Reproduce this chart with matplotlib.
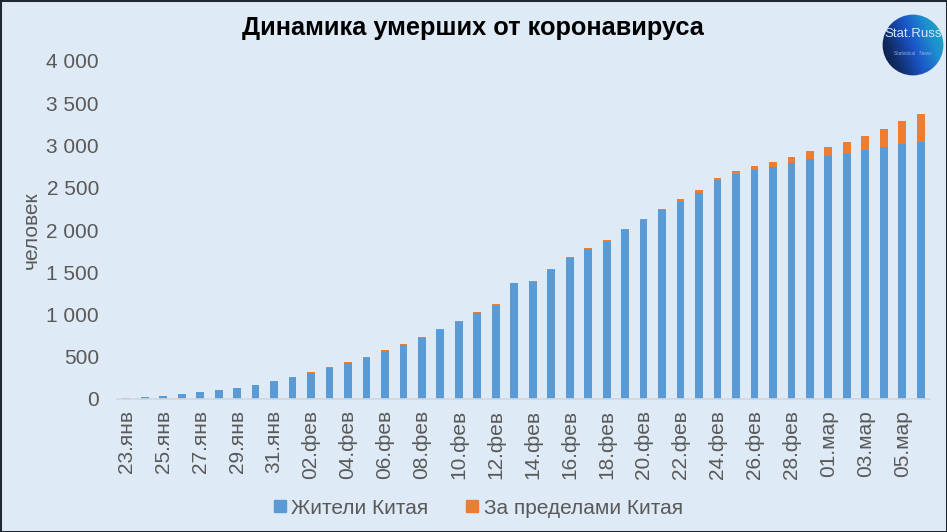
import numpy as np
import matplotlib
matplotlib.use("Agg")
import matplotlib.pyplot as plt
from matplotlib.patches import Rectangle, Circle
from matplotlib.lines import Line2D
from matplotlib.colors import LinearSegmentedColormap

plt.rcParams['font.family'] = ['Liberation Sans', 'DejaVu Sans']

dates = ['23.янв', '24.янв', '25.янв', '26.янв', '27.янв', '28.янв', '29.янв', '30.янв', '31.янв',
         '01.фев', '02.фев', '03.фев', '04.фев', '05.фев', '06.фев', '07.фев', '08.фев', '09.фев',
         '10.фев', '11.фев', '12.фев', '13.фев', '14.фев', '15.фев', '16.фев', '17.фев', '18.фев',
         '19.фев', '20.фев', '21.фев', '22.фев', '23.фев', '24.фев', '25.фев', '26.фев', '27.фев',
         '28.фев', '29.фев', '01.мар', '02.мар', '03.мар', '04.мар', '05.мар', '06.мар']

china = [17, 25, 41, 56, 80, 106, 132, 170, 213,
         259, 304, 361, 425, 490, 563, 636, 722, 811,
         908, 1016, 1113, 1367, 1380, 1523, 1665, 1770, 1868,
         2004, 2118, 2236, 2345, 2442, 2592, 2663, 2715, 2744,
         2788, 2835, 2870, 2912, 2943, 2981, 3012, 3042]

outside = [0, 0, 0, 0, 0, 0, 0, 0, 0,
           0, 12, 12, 12, 10, 12, 12, 12, 12,
           12, 12, 12, 10, 14, 12, 12, 12, 12,
           12, 12, 12, 16, 28, 24, 35, 47, 63,
           71, 94, 111, 134, 166, 217, 276, 331]

title = 'Динамика умерших от коронавируса'
ylabel = 'человек'
series_names = ['Жители Китая', 'За пределами Китая']

BG = '#DEEAF6'
BLUE = '#5B9BD5'
ORANGE = '#ED7D31'
GRAY = '#595959'
FS = 15

fig = plt.figure(figsize=(9.47, 5.32), dpi=100)
fig.patch.set_facecolor(BG)

W, H = 947, 532
ax = fig.add_axes([117 / W, (H - 399) / H, (930 - 117) / W, (399 - 61) / H])
ax.set_facecolor('none')

x = np.arange(len(dates))
ax.bar(x, china, width=0.42, color=BLUE, zorder=2)
ax.bar(x, outside, width=0.42, bottom=china, color=ORANGE, zorder=2)

ax.set_xlim(-0.5, len(dates) - 0.5)
ax.set_ylim(0, 4000)
yt = np.arange(0, 4001, 500)
ax.set_yticks(yt)
ax.set_yticklabels([f'{v:,}'.replace(',', ' ') for v in yt], fontsize=FS, color=GRAY)
ax.set_xticks(x[::2])
ax.set_xticklabels(dates[::2], rotation=90, fontsize=FS, color=GRAY)
ax.tick_params(axis='both', length=0)
ax.tick_params(axis='x', pad=8)
ax.tick_params(axis='y', pad=13)

for s in ['top', 'right', 'left']:
    ax.spines[s].set_visible(False)
ax.spines['bottom'].set_color('#D0D6DD')
ax.spines['bottom'].set_linewidth(1.2)

ax.set_ylabel(ylabel, fontsize=FS, color=GRAY, labelpad=4)

fig.text(473 / W, 1 - 28 / H, title, ha='center', va='center', fontsize=18.3,
         fontweight='bold', color='black')

handles = [Line2D([], [], marker='s', linestyle='none', markersize=8, color=BLUE),
           Line2D([], [], marker='s', linestyle='none', markersize=8, color=ORANGE)]
fig.legend(handles, series_names, loc='center', bbox_to_anchor=(476 / W, 1 - 508 / H),
           ncol=2, frameon=False, fontsize=FS, labelcolor=GRAY,
           handletextpad=0.05, columnspacing=1.6, handlelength=1.0)

# logo
lax = fig.add_axes([(913 - 31) / W, 1 - (45 + 31) / H, 62 / W, 62 / H])
lax.set_xlim(-1, 1)
lax.set_ylim(-1, 1)
lax.axis('off')
gx, gy = np.meshgrid(np.linspace(-1, 1, 100), np.linspace(-1, 1, 100))
grad = (gx + gy * 0.4 + 1.4) / 2.8
cmap = LinearSegmentedColormap.from_list('logo', ['#08152e', '#12306e', '#1a55c8', '#1e8fd0', '#20b0b0'])
im = lax.imshow(grad, extent=(-1, 1, -1, 1), origin='lower', cmap=cmap, zorder=1)
circ = Circle((0, 0), 0.98, transform=lax.transData)
im.set_clip_path(circ)
lax.text(0.0, 0.36, 'Stat.Russ', ha='center', va='center', fontsize=9.5,
         color='#d6e6ff', zorder=3, clip_on=False)
lax.text(0, -0.27, 'Statistical   News', ha='center', va='center', fontsize=3.5,
         color='#8fb0e0', zorder=3)

fig.add_artist(Rectangle((0, 0), 1, 1, transform=fig.transFigure, fill=False,
                         edgecolor='#1e2833', linewidth=2.2))

fig.savefig('out.png', dpi=100, facecolor=BG)
